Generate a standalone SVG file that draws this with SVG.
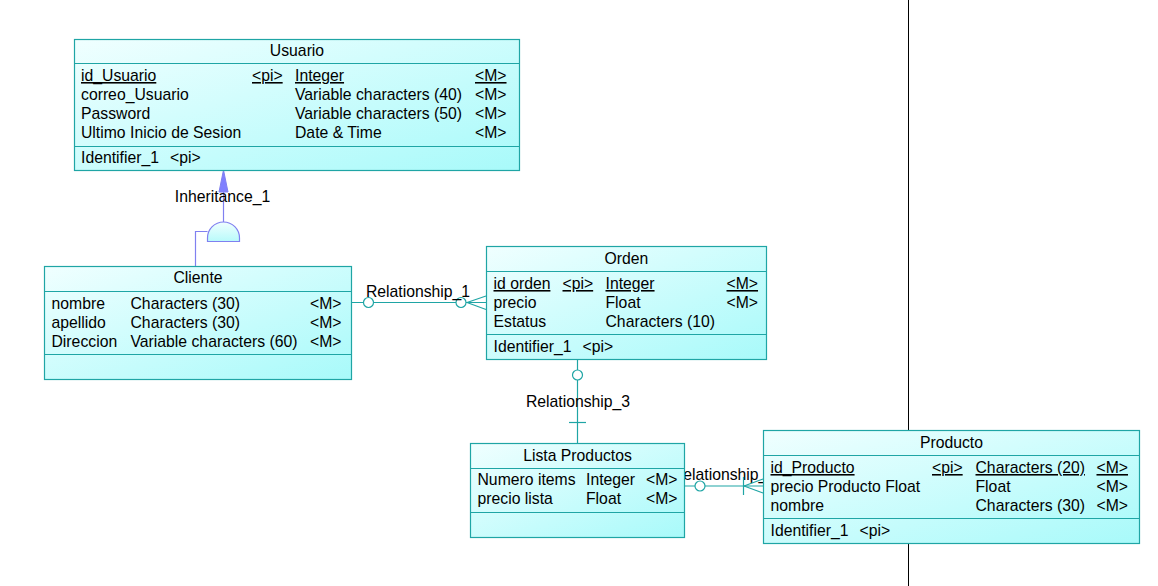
<svg xmlns="http://www.w3.org/2000/svg" width="1158" height="586" viewBox="0 0 1158 586">
<style>
text{font-family:"Liberation Sans",Arial,sans-serif;font-size:15.75px;fill:#000}
.t{text-anchor:middle}
.u{text-decoration:underline}
.box{fill:url(#g);stroke:#1fa5a5;stroke-width:1.2}
.sep{stroke:#1fa5a5;stroke-width:1.2}
.rel{stroke:#1fa5a5;stroke-width:1.2;fill:none}
.circ{fill:#fff;stroke:#1fa5a5;stroke-width:1.2}
.inh{stroke:#8080f0;stroke-width:1.2;fill:none}
</style>
<defs>
<linearGradient id="g" x1="0" y1="0" x2="1" y2="1">
<stop offset="0" stop-color="#f0ffff"/>
<stop offset="1" stop-color="#a8fafa"/>
</linearGradient>
<linearGradient id="gi" x1="0" y1="0" x2="0" y2="1">
<stop offset="0" stop-color="#f0ffff"/>
<stop offset="1" stop-color="#b8fafa"/>
</linearGradient>
</defs>
<rect width="1158" height="586" fill="#fff"/>
<line x1="908.5" y1="0" x2="908.5" y2="586" stroke="#000" stroke-width="1"/>

<g id="connectors">
<g id="inheritance_1">
<line class="inh" x1="223.5" y1="190" x2="223.5" y2="222"/>
<polygon points="223.5,170 219,192 228,192" fill="#8080ff" stroke="#8080f0" stroke-width="1"/>
<path class="inh" d="M195.5,266 V231.5 H207.5"/>
<path d="M207.5,241.5 V238 A16,16 0 0 1 239.5,238 V241.5 Z" fill="url(#gi)" stroke="#8080f0" stroke-width="1.2"/>
<text class="t" x="222.5" y="202">Inheritance_1</text>
</g>
<g id="relationship_1">
<line class="rel" x1="352" y1="302.5" x2="486" y2="302.5"/>
<line class="rel" x1="467" y1="302.5" x2="486" y2="296"/>
<line class="rel" x1="467" y1="302.5" x2="486" y2="309.5"/>
<circle class="circ" cx="368.5" cy="302.5" r="5"/>
<circle class="circ" cx="461" cy="302.5" r="5"/>
<text class="t" x="418" y="297">Relationship_1</text>
</g>
<g id="relationship_3">
<line class="rel" x1="577.5" y1="359" x2="577.5" y2="443"/>
<circle class="circ" cx="577.5" cy="375" r="5"/>
<line class="rel" x1="569" y1="422.5" x2="586" y2="422.5"/>
<text class="t" x="578" y="407">Relationship_3</text>
</g>
<g id="relationship_2">
<text class="t" x="724" y="480">Relationship_2</text>
<line class="rel" x1="685" y1="486" x2="763" y2="486"/>
<circle class="circ" cx="700" cy="486" r="5"/>
<line class="rel" x1="743.5" y1="477" x2="743.5" y2="495"/>
<line class="rel" x1="744" y1="486" x2="763" y2="479"/>
<line class="rel" x1="744" y1="486" x2="763" y2="493"/>
</g>
</g>

<g id="usuario">
<rect class="box" x="74.5" y="39.5" width="445" height="131"/>
<line class="sep" x1="74.5" y1="63.5" x2="519.5" y2="63.5"/>
<line class="sep" x1="74.5" y1="146.5" x2="519.5" y2="146.5"/>
<text class="t" x="297" y="56">Usuario</text>
<text class="u" x="81" y="81">id_Usuario</text>
<text class="u" x="252" y="81">&lt;pi&gt;</text>
<text class="u" x="295" y="81">Integer</text>
<text class="u" x="475" y="81">&lt;M&gt;</text>
<text x="81" y="100">correo_Usuario</text>
<text x="295" y="100">Variable characters (40)</text>
<text x="475" y="100">&lt;M&gt;</text>
<text x="81" y="119">Password</text>
<text x="295" y="119">Variable characters (50)</text>
<text x="475" y="119">&lt;M&gt;</text>
<text x="81" y="138">Ultimo Inicio de Sesion</text>
<text x="295" y="138">Date &amp; Time</text>
<text x="475" y="138">&lt;M&gt;</text>
<text x="81" y="163">Identifier_1</text>
<text x="170" y="163">&lt;pi&gt;</text>
</g>

<g id="cliente">
<rect class="box" x="44.5" y="266.5" width="307" height="113"/>
<line class="sep" x1="44.5" y1="291.5" x2="351.5" y2="291.5"/>
<line class="sep" x1="44.5" y1="354.5" x2="351.5" y2="354.5"/>
<text class="t" x="198" y="283">Cliente</text>
<text x="51.5" y="309">nombre</text>
<text x="130.5" y="309">Characters (30)</text>
<text x="310" y="309">&lt;M&gt;</text>
<text x="51.5" y="328">apellido</text>
<text x="130.5" y="328">Characters (30)</text>
<text x="310" y="328">&lt;M&gt;</text>
<text x="51.5" y="347">Direccion</text>
<text x="130.5" y="347">Variable characters (60)</text>
<text x="310" y="347">&lt;M&gt;</text>
</g>

<g id="orden">
<rect class="box" x="486.5" y="246.5" width="280" height="113"/>
<line class="sep" x1="486.5" y1="271.5" x2="766.5" y2="271.5"/>
<line class="sep" x1="486.5" y1="334.5" x2="766.5" y2="334.5"/>
<text class="t" x="626.5" y="264">Orden</text>
<text class="u" x="493.5" y="289">id orden</text>
<text class="u" x="562.5" y="289">&lt;pi&gt;</text>
<text class="u" x="605.5" y="289">Integer</text>
<text class="u" x="726.5" y="289">&lt;M&gt;</text>
<text x="493.5" y="308">precio</text>
<text x="605.5" y="308">Float</text>
<text x="726.5" y="308">&lt;M&gt;</text>
<text x="493.5" y="327">Estatus</text>
<text x="605.5" y="327">Characters (10)</text>
<text x="493.5" y="352">Identifier_1</text>
<text x="582.5" y="352">&lt;pi&gt;</text>
</g>

<g id="lista_productos">
<rect class="box" x="470.5" y="443.5" width="214" height="94"/>
<line class="sep" x1="470.5" y1="468.5" x2="684.5" y2="468.5"/>
<line class="sep" x1="470.5" y1="512.5" x2="684.5" y2="512.5"/>
<text class="t" x="577.5" y="461">Lista Productos</text>
<text x="477.5" y="485">Numero items</text>
<text x="586" y="485">Integer</text>
<text x="646" y="485">&lt;M&gt;</text>
<text x="477.5" y="504">precio lista</text>
<text x="586" y="504">Float</text>
<text x="646" y="504">&lt;M&gt;</text>
</g>

<g id="producto">
<rect class="box" x="763.5" y="430.5" width="376" height="113"/>
<line class="sep" x1="763.5" y1="455.5" x2="1139.5" y2="455.5"/>
<line class="sep" x1="763.5" y1="518.5" x2="1139.5" y2="518.5"/>
<text class="t" x="951.5" y="448">Producto</text>
<text class="u" x="770.5" y="473">id_Producto</text>
<text class="u" x="932" y="473">&lt;pi&gt;</text>
<text class="u" x="975.5" y="473">Characters (20)</text>
<text class="u" x="1096.5" y="473">&lt;M&gt;</text>
<text x="770.5" y="492">precio Producto Float</text>
<text x="975.5" y="492">Float</text>
<text x="1096.5" y="492">&lt;M&gt;</text>
<text x="770.5" y="511">nombre</text>
<text x="975.5" y="511">Characters (30)</text>
<text x="1096.5" y="511">&lt;M&gt;</text>
<text x="770.5" y="536">Identifier_1</text>
<text x="859.5" y="536">&lt;pi&gt;</text>
</g>
</svg>
